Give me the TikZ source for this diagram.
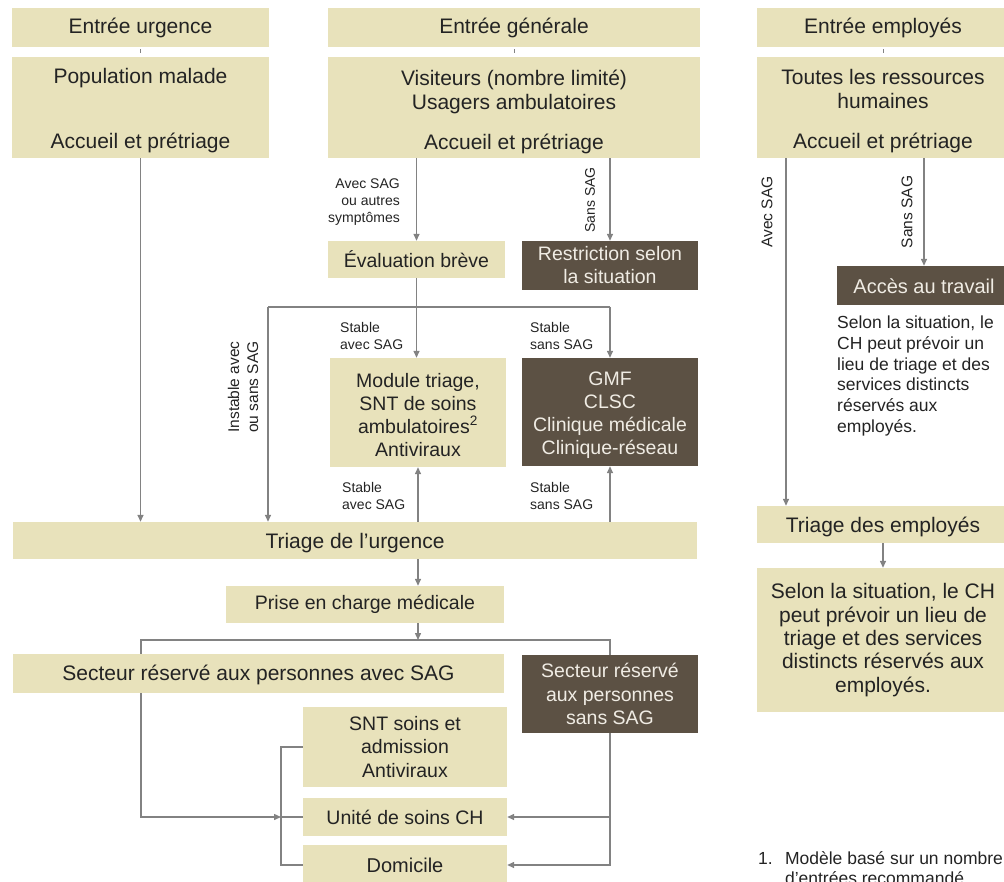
\documentclass[tikz,border=0pt]{standalone}
\usepackage{fontspec}
\setmainfont{Liberation Sans}
\usetikzlibrary{arrows.meta}
\definecolor{beige}{RGB}{232,226,187}
\definecolor{darkbox}{RGB}{92,81,68}
\definecolor{lighttext}{RGB}{240,236,228}
\definecolor{txt}{RGB}{35,35,35}
\definecolor{conncol}{RGB}{130,130,130}
\newcommand\strutH[1]{\rule{0pt}{#1pt}}
\begin{document}
\begin{tikzpicture}[x=1pt,y=-1pt,
  box/.style={fill=beige, inner sep=0pt, align=center, text=txt, font=\fontsize{21}{24}\selectfont},
  midbox/.style={box, font=\fontsize{19.5}{23}\selectfont},
  darkb/.style={midbox, fill=darkbox, text=lighttext},
  lab/.style={inner sep=0pt, text=txt, font=\fontsize{14}{16.7}\selectfont},
  lab2/.style={inner sep=0pt, text=txt, font=\fontsize{15.5}{19}\selectfont, align=center},
  conn/.style={draw=conncol, line width=1.4pt},
  tick/.style={draw=conncol, line width=0.9pt},
  arr/.style={conn, -{Triangle[length=7pt,width=6pt]}},
]
\clip (0,0) rectangle (1004,882);
\useasboundingbox (0,0) rectangle (1004,882);

% ---- left column
\node[box, minimum width=257, minimum height=39] (hdrU) at (140.5,27.5) {Entrée urgence};
\node[box, minimum width=257, minimum height=101] (popU) at (140.5,107.5) {\strutH{21.5}Population malade\\[41pt]Accueil et prétriage};

% ---- middle column
\node[box, minimum width=372, minimum height=39] (hdrG) at (514,27.5) {Entrée générale};
\node[box, minimum width=372, minimum height=101] (visG) at (514,107.5) {\strutH{23.5}Visiteurs (nombre limité)\\Usagers ambulatoires\\[16pt]Accueil et prétriage};
\node[midbox, minimum width=177, minimum height=37] (eval) at (416.5,259.5) {Évaluation brève};
\node[darkb, minimum width=176, minimum height=49] (restr) at (610,265.5) {Restriction selon\\la situation};
\node[midbox, minimum width=176, minimum height=109] (module) at (418,412.5) {\strutH{18.2}Module triage,\\SNT de soins\\ambulatoires\textsuperscript{2}\\Antiviraux};
\node[darkb, minimum width=176, minimum height=108] (gmf) at (610,412) {\strutH{19.2}GMF\\CLSC\\Clinique médicale\\Clinique-réseau};
\node[box, minimum width=684, minimum height=37] (triU) at (355,540.5) {\strutH{21.3}Triage de l’urgence};
\node[midbox, minimum width=278, minimum height=37] (prise) at (365,604.5) {Prise en charge médicale};
\node[box, minimum width=491, minimum height=39] (secA) at (258.5,673.5) {\strutH{19.3}Secteur réservé aux personnes avec SAG};
\node[darkb, minimum width=176, minimum height=78, font=\fontsize{19.5}{23.5}\selectfont] (secS) at (610,694) {Secteur réservé\\aux personnes\\sans SAG};
\node[midbox, minimum width=204, minimum height=80, font=\fontsize{19.5}{23.5}\selectfont] (snt) at (405,747) {SNT soins et\\admission\\Antiviraux};
\node[midbox, minimum width=204, minimum height=38] (unite) at (405,817) {Unité de soins CH};
\node[box, font=\fontsize{20}{24}\selectfont, minimum width=204, minimum height=40] (domi) at (405,865) {Domicile};

% ---- right column
\node[box, minimum width=252, minimum height=39] (hdrE) at (883,27.5) {Entrée employés};
\node[box, minimum width=252, minimum height=101] (resE) at (883,107.5) {\strutH{21.5}Toutes les ressources\\humaines\\[16pt]Accueil et prétriage};
\node[darkb, font=\fontsize{20}{24}\selectfont, minimum width=174, minimum height=39] (acces) at (924,285.5) {\strutH{17}Accès au travail};
\node[inner sep=0pt, text=txt, align=left, anchor=north west, font=\fontsize{17.5}{20.7}\selectfont] (selonE) at (837,316) {Selon la situation, le\\CH peut prévoir un\\lieu de triage et des\\services distincts\\réservés aux\\employés.};
\node[box, minimum width=252, minimum height=37] (triE) at (883,524.5) {\strutH{19.5}Triage des employés};
\node[box, font=\fontsize{21}{23.3}\selectfont, minimum width=252, minimum height=144] (finE) at (883,640) {Selon la situation, le CH\\peut prévoir un lieu de\\triage et des services\\distincts réservés aux\\employés.};
\node[inner sep=0pt, text=txt, align=left, anchor=north west, font=\fontsize{17.5}{20.7}\selectfont] (foot) at (758,851) {1.\hspace{0.7em}Modèle basé sur un nombre\\\phantom{1.}\hspace{0.7em}d’entrées recommandé};

% ---- connector coordinates
\coordinate (brL) at (268,307);
\coordinate (brR) at (610,307);
\coordinate (br2) at (418,640);
\coordinate (b2L) at (141,640);
\coordinate (b2R) at (610,640);
\coordinate (bk) at (281,817);
\coordinate (xA) at (786,0);

% ---- labels
\node[lab, align=right, anchor=north east] (lAvec) at (400,179) {Avec SAG\\ou autres\\symptômes};
\node[lab, rotate=90] (lSans) at (590,200) {Sans SAG};
\node[lab, align=left, anchor=north west] (lS1) at (340,322) {Stable\\avec SAG};
\node[lab, align=left, anchor=north west] (lS2) at (530,322) {Stable\\sans SAG};
\node[lab, align=left, anchor=north west] (lS3) at (342,482) {Stable\\avec SAG};
\node[lab, align=left, anchor=north west] (lS4) at (530,482) {Stable\\sans SAG};
\node[lab2, rotate=90] (lInst) at (243,387) {Instable avec\\ou sans SAG};
\node[lab2, rotate=90] (lAvecE) at (767,212) {Avec SAG};
\node[lab2, rotate=90] (lSansE) at (907,212) {Sans SAG};

% ---- connectors
\draw[tick] ([yshift=-2pt]hdrU.south) -- ([yshift=4pt]popU.north);
\draw[tick] ([yshift=-2pt]hdrG.south) -- ([yshift=4pt]visG.north);
\draw[tick] ([yshift=-2pt]hdrE.south) -- ([yshift=4pt]resE.north);

\draw[arr] (popU.south) -- (popU.south |- triU.north);
\draw[arr] (eval.north |- visG.south) -- (eval.north);
\draw[arr] (restr.north |- visG.south) -- (restr.north);
\draw[arr] (eval.south) -- (eval.south |- module.north);
\draw[conn] (brL) -- (brR);
\draw[arr] (brR) -- (gmf.north);
\draw[arr] (brL) -- (brL |- triU.north);
\draw[arr] (module.south |- triU.north) -- (module.south);
\draw[arr] (gmf.south |- triU.north) -- (gmf.south);
\draw[arr] (br2 |- triU.south) -- (br2 |- prise.north);
\draw[arr] (br2 |- prise.south) -- (br2);
\draw[conn] (secA.north -| b2L) -- (b2L) -- (b2R) -- (secS.north);
\draw[arr] (secA.south -| b2L) |- (bk);
\draw[conn] (snt.west) -- (snt.west -| bk) -- (domi.west -| bk) -- (domi.west);
\draw[conn] (bk) -- (unite.west);
\draw[arr] (secS.south) |- (domi.east);
\draw[arr] (secS.south |- unite.east) -- (unite.east);

\draw[arr] (resE.south -| xA) -- (triE.north -| xA);
\draw[arr] (resE.south -| acces.north) -- (acces.north);
\draw[arr] (triE.south) -- (finE.north);
\end{tikzpicture}
\end{document}
